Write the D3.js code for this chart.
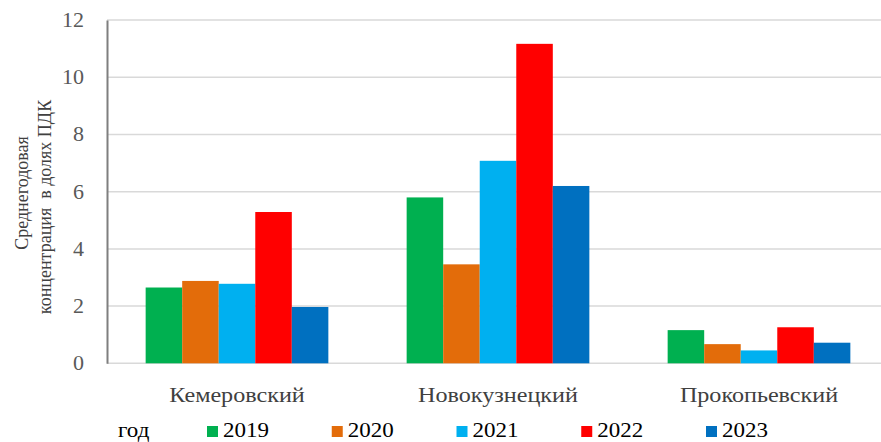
<!DOCTYPE html>
<html>
<head>
<meta charset="utf-8">
<script src="https://cdn.jsdelivr.net/npm/d3@7"></script>
<style>
  body { margin: 0; background: #fff; }
  svg { display: block; }
</style>
</head>
<body>
<svg width="881" height="442"></svg>
<script>
// districts and years
const districts = ["Кемеровский", "Новокузнецкий", "Прокопьевский"];
const years = ["2019", "2020", "2021", "2022", "2023"];
const yearColors = ["#00b050", "#e36c0a", "#00b0f0", "#ff0000", "#0070c0"];

// mean annual concentration, in MPC fractions (one array per year)
const v2019 = [2.65, 5.8, 1.16];
const v2020 = [2.88, 3.46, 0.67];
const v2021 = [2.78, 7.08, 0.45];
const v2022 = [5.29, 11.17, 1.26];
const v2023 = [1.97, 6.2, 0.72];
const yTicks = [0, 2, 4, 6, 8, 10, 12];

const series = [v2019, v2020, v2021, v2022, v2023];

const svg = d3.select("svg");
const serif = "Liberation Serif";
const stretch = 1.15; // the reference text is a bit wider than the font
const axisX = 107;

const x = d3.scaleBand()
    .domain(districts)
    .range([106.5, 889.5]);

const groupW = x.bandwidth() * 0.7;
const x1 = d3.scaleBand()
    .domain(years)
    .range([0, groupW]);

const y = d3.scaleLinear()
    .domain([0, 12])
    .range([363.3, 20.1]);

// gridlines
svg.append("g")
    .selectAll("line")
    .data(yTicks)
    .enter()
    .append("line")
    .attr("x1", axisX)
    .attr("x2", 881)
    .attr("y1", d => y(d))
    .attr("y2", d => y(d))
    .attr("stroke", "#d9d9d9")
    .attr("stroke-width", 1.5);

// bars
const groups = svg.append("g")
    .selectAll("g")
    .data(districts)
    .enter()
    .append("g")
    .attr("transform", d => `translate(${x(d) + (x.bandwidth() - groupW) / 2},0)`);

groups.selectAll("rect")
    .data((d, i) => years.map((yr, j) => ({ year: yr, value: series[j][i], color: yearColors[j] })))
    .enter()
    .append("rect")
    .attr("x", d => x1(d.year))
    .attr("width", x1.bandwidth())
    .attr("y", d => y(d.value))
    .attr("height", d => y(0) - y(d.value))
    .attr("fill", d => d.color);

// y axis
const yAxis = svg.append("g")
    .attr("transform", `translate(${axisX},0)`)
    .call(d3.axisLeft(y).tickValues(yTicks).tickSize(0).tickPadding(23));
yAxis.attr("font-family", serif).attr("font-size", 20);
yAxis.select(".domain").attr("stroke", "#7f7f7f").attr("stroke-width", 2);
yAxis.selectAll("text")
    .attr("fill", "#595959")
    .attr("x", -23 / 1.1)
    .attr("transform", "scale(1.1,1)");

// x category labels
svg.append("g")
    .selectAll("text")
    .data(districts)
    .enter()
    .append("text")
    .attr("transform", d => `translate(${x(d) + x.bandwidth() / 2},402) scale(${stretch},1)`)
    .attr("text-anchor", "middle")
    .attr("fill", "#404040")
    .attr("font-family", serif)
    .attr("font-size", 21)
    .text(d => d);

// y title
const titleLines = [
    { text: "Среднегодовая", x: 28, cy: 193 },
    { text: "концентрация  в долях ПДК", x: 51, cy: 207 }
];
svg.append("g")
    .selectAll("text")
    .data(titleLines)
    .enter()
    .append("text")
    .attr("transform", d => `translate(${d.x},${d.cy}) rotate(-90)`)
    .attr("text-anchor", "middle")
    .attr("fill", "#404040")
    .attr("font-family", serif)
    .attr("font-size", 18)
    .attr("xml:space", "preserve")
    .style("white-space", "pre")
    .text(d => d.text);

// legend
svg.append("text")
    .attr("transform", `translate(118,437) scale(${stretch},1)`)
    .attr("fill", "#000")
    .attr("font-family", serif)
    .attr("font-size", 20)
    .text("год");

const legendX = d3.scalePoint()
    .domain(years)
    .range([207, 706]);

const legendItem = svg.append("g")
    .selectAll("g")
    .data(years)
    .enter()
    .append("g")
    .attr("transform", d => `translate(${legendX(d)},0)`);

legendItem.append("rect")
    .attr("x", 0)
    .attr("y", 426)
    .attr("width", 11)
    .attr("height", 11)
    .attr("fill", (d, i) => yearColors[i]);

legendItem.append("text")
    .attr("transform", `translate(16,437) scale(${stretch},1)`)
    .attr("fill", "#000")
    .attr("font-family", serif)
    .attr("font-size", 20)
    .text(d => d);
</script>
</body>
</html>
